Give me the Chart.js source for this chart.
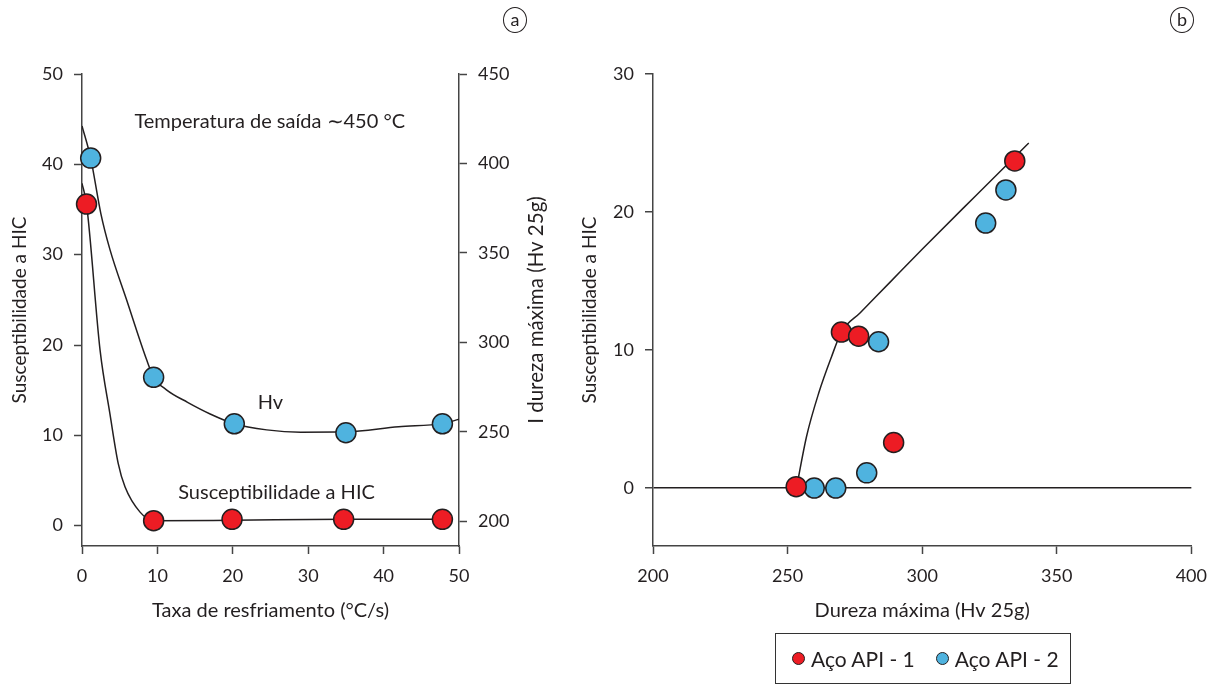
<!DOCTYPE html>
<html>
<head>
<meta charset="utf-8">
<script src="https://cdn.jsdelivr.net/npm/chart.js@4.4.1/dist/chart.umd.min.js"></script>
<style>
  body { margin: 0; background: #fff; width: 1218px; height: 685px; overflow: hidden; position: relative;
         font-family: Lato, "Open Sans", sans-serif; color: #231f20; }
  #painelA { position: absolute; left: 0; top: 0; }
  #painelB { position: absolute; left: 560px; top: 0; }
  .rotulo { position: absolute; width: 24px; height: 26px; border: 1.3px solid #231f20; border-radius: 50%;
            text-align: center; font-size: 18px; line-height: 23px; box-sizing: border-box; }
  #legenda { position: absolute; left: 775px; top: 633px; width: 296px; height: 51px; box-sizing: border-box;
             border: 1.6px solid #333; display: flex; align-items: center; font-size: 21px; }
  #legenda span.m { display: inline-block; width: 13px; height: 13px; border-radius: 50%;
                    border: 1.3px solid #231f20; box-sizing: border-box; margin-right: 6px; }
  #legenda .item { display: flex; align-items: center; }
</style>
</head>
<body>
<canvas id="painelA" width="560" height="685"></canvas>
<canvas id="painelB" width="658" height="685"></canvas>
<div class="rotulo" style="left:503px;top:7px">a</div>
<div class="rotulo" style="left:1170px;top:7px">b</div>
<div id="legenda">
  <div class="item" style="margin-left:16px"><span class="m" style="background:#ed1c24"></span>Aço API - 1</div>
  <div class="item" style="margin-left:21px"><span class="m" style="background:#4fb3df"></span>Aço API - 2</div>
</div>
<script>
// (a) taxa de resfriamento x dureza (Hv) e susceptibilidade a HIC
const taxaHv = [1.15, 9.5, 20.2, 35.0, 47.8];
const hvValores = [403, 280.5, 254.5, 249.5, 254.5];
const taxaHic = [0.6, 9.5, 19.9, 34.7, 47.8];
const hicValores = [35.6, 0.55, 0.7, 0.7, 0.7];

// curvas de ajuste
const curvaHvX = [0, 1.15, 2.5, 3.7, 5.9, 8.6, 9.5, 11.2, 14, 17, 20.2, 24.5, 29, 35, 42, 47.8, 50];
const curvaHvY = [421, 403, 372, 352, 324, 290, 280.5, 273.5, 266.5, 260, 254.5, 251.1, 249.8, 250, 252.9, 254.6, 257];
const curvaHicX = [0, 0.6, 2.4, 3.7, 4.8, 5.7, 7.7, 9.5, 20, 35, 47.8];
const curvaHicY = [37.9, 35.6, 19.4, 12.4, 6.9, 4.3, 1.5, 0.55, 0.6, 0.7, 0.7];

const ticksTaxa = [0, 10, 20, 30, 40, 50];
const ticksHic = [0, 10, 20, 30, 40, 50];
const ticksHv = [200, 250, 300, 350, 400, 450];

// (b) dureza máxima x susceptibilidade a HIC
const durezaApi1 = [253.2, 270, 276.4, 289.4, 334.4];
const hicApi1 = [0.1, 11.3, 11.0, 3.3, 23.7];
const durezaApi2 = [259.9, 267.9, 279.4, 283.8, 323.6, 331.1];
const hicApi2 = [0, 0, 1.1, 10.6, 19.2, 21.6];
const curvaBX = [253.3, 257, 261.6, 266.3, 270, 277, 288, 300, 320, 339.6];
const curvaBY = [0, 3.7, 6.9, 9.5, 11.3, 12.7, 14.9, 17.3, 21.2, 25.0];

const ticksDureza = [200, 250, 300, 350, 400];
const ticksHicB = [0, 10, 20, 30];

const notasA = [
  { texto: 'Temperatura de saída ∼450 °C', x: 24.9, y: 44.7, eixo: 'y' },
  { texto: 'Hv', x: 25.0, y: 266.4, eixo: 'y1' },
  { texto: 'Susceptibilidade a HIC', x: 25.8, y: 3.65, eixo: 'y' }
];

const VERMELHO = '#ed1c24';
const AZUL = '#4fb3df';
const TINTA = '#231f20';
const FONTE = 'Lato, "Open Sans", sans-serif';

const pares = (xs, ys) => xs.map((x, i) => ({ x: x, y: ys[i] }));
const fixarTicks = lista => scale => { scale.ticks = lista.map(v => ({ value: v })); };

function pontos(dados, cor, eixo) {
  return { data: dados, yAxisID: eixo, showLine: false, pointRadius: 10, pointHoverRadius: 10,
           pointBackgroundColor: cor, pointBorderColor: TINTA, pointBorderWidth: 1.5, clip: false };
}
function curva(dados, eixo) {
  return { data: dados, yAxisID: eixo, showLine: true, pointRadius: 0, borderColor: TINTA,
           borderWidth: 1.5, cubicInterpolationMode: 'monotone' };
}

function eixo(extra) {
  return Object.assign({
    type: 'linear',
    grid: { drawOnChartArea: false, tickLength: 8, color: '#444', tickWidth: 1.5 },
    border: { color: '#444', width: 1.5 },
    ticks: { color: TINTA, font: { family: FONTE, size: 18 }, padding: 11 }
  }, extra);
}

const notasPlugin = {
  id: 'notas',
  afterDatasetsDraw(chart, args, opts) {
    const ctx = chart.ctx;
    ctx.save();
    ctx.fillStyle = TINTA;
    ctx.font = '20px ' + FONTE;
    ctx.textAlign = 'center';
    ctx.textBaseline = 'middle';
    (opts.itens || []).forEach(n => {
      ctx.fillText(n.texto, chart.scales.x.getPixelForValue(n.x), chart.scales[n.eixo].getPixelForValue(n.y));
    });
    if (opts.tituloDireito) {
      ctx.translate(536, (chart.chartArea.top + chart.chartArea.bottom) / 2);
      ctx.rotate(-Math.PI / 2);
      ctx.font = '20.5px ' + FONTE;
      ctx.fillText(opts.tituloDireito, 0, 0);
    }
    ctx.restore();
  }
};

new Chart(document.getElementById('painelA'), {
  type: 'scatter',
  data: {
    datasets: [
      pontos(pares(taxaHv, hvValores), AZUL, 'y1'),
      pontos(pares(taxaHic, hicValores), VERMELHO, 'y'),
      curva(pares(curvaHvX, curvaHvY), 'y1'),
      curva(pares(curvaHicX, curvaHicY), 'y')
    ]
  },
  options: {
    responsive: false,
    animation: false,
    events: [],
    layout: { padding: { top: 74, left: 0, right: 0, bottom: 0 } },
    plugins: {
      legend: { display: false }, tooltip: { enabled: false },
      notas: { itens: notasA, tituloDireito: 'I dureza máxima (Hv 25g)' }
    },
    scales: {
      x: eixo({
        min: 0, max: 50, position: 'bottom',
        afterBuildTicks: fixarTicks(ticksTaxa),
        afterFit: s => { s.height = 139; },
        title: { display: true, text: 'Taxa de resfriamento (°C/s)', color: TINTA,
                 font: { family: FONTE, size: 20 }, padding: { top: 0, bottom: 62 } }
      }),
      y: eixo({
        min: -2.25, max: 50, position: 'left',
        afterBuildTicks: fixarTicks(ticksHic),
        afterFit: s => { s.width = 82; },
        title: { display: true, text: 'Susceptibilidade a HIC', color: TINTA,
                 font: { family: FONTE, size: 19 }, padding: { top: 8, bottom: 0 } }
      }),
      y1: eixo({
        min: 186.2, max: 450, position: 'right',
        afterBuildTicks: fixarTicks(ticksHv),
        afterFit: s => { s.width = 101; }
      })
    }
  },
  plugins: [notasPlugin]
});

new Chart(document.getElementById('painelB'), {
  type: 'scatter',
  data: {
    datasets: [
      pontos(pares(durezaApi1, hicApi1), VERMELHO, 'y'),
      pontos(pares(durezaApi2, hicApi2), AZUL, 'y'),
      curva(pares(curvaBX, curvaBY), 'y')
    ]
  },
  options: {
    responsive: false,
    animation: false,
    events: [],
    layout: { padding: { top: 74, left: 0, right: 25, bottom: 0 } },
    plugins: { legend: { display: false }, tooltip: { enabled: false } },
    scales: {
      x: eixo({
        min: 200, max: 400, position: 'bottom',
        afterBuildTicks: fixarTicks(ticksDureza),
        afterFit: s => { s.height = 139; },
        title: { display: true, text: 'Dureza máxima (Hv 25g)', color: TINTA,
                 font: { family: FONTE, size: 20 }, padding: { top: 0, bottom: 62 } }
      }),
      y: eixo({
        min: -4.2, max: 30, position: 'left',
        afterBuildTicks: fixarTicks(ticksHicB),
        afterFit: s => { s.width = 93; },
        grid: { drawOnChartArea: true, tickLength: 8, tickWidth: 1.5, tickColor: '#444',
                lineWidth: 1.5, color: c => (c.tick && c.tick.value === 0 ? TINTA : 'rgba(0,0,0,0)') },
        title: { display: true, text: 'Susceptibilidade a HIC', color: TINTA,
                 font: { family: FONTE, size: 19 }, padding: { top: 18, bottom: 0 } }
      })
    }
  }
});
</script>
</body>
</html>
